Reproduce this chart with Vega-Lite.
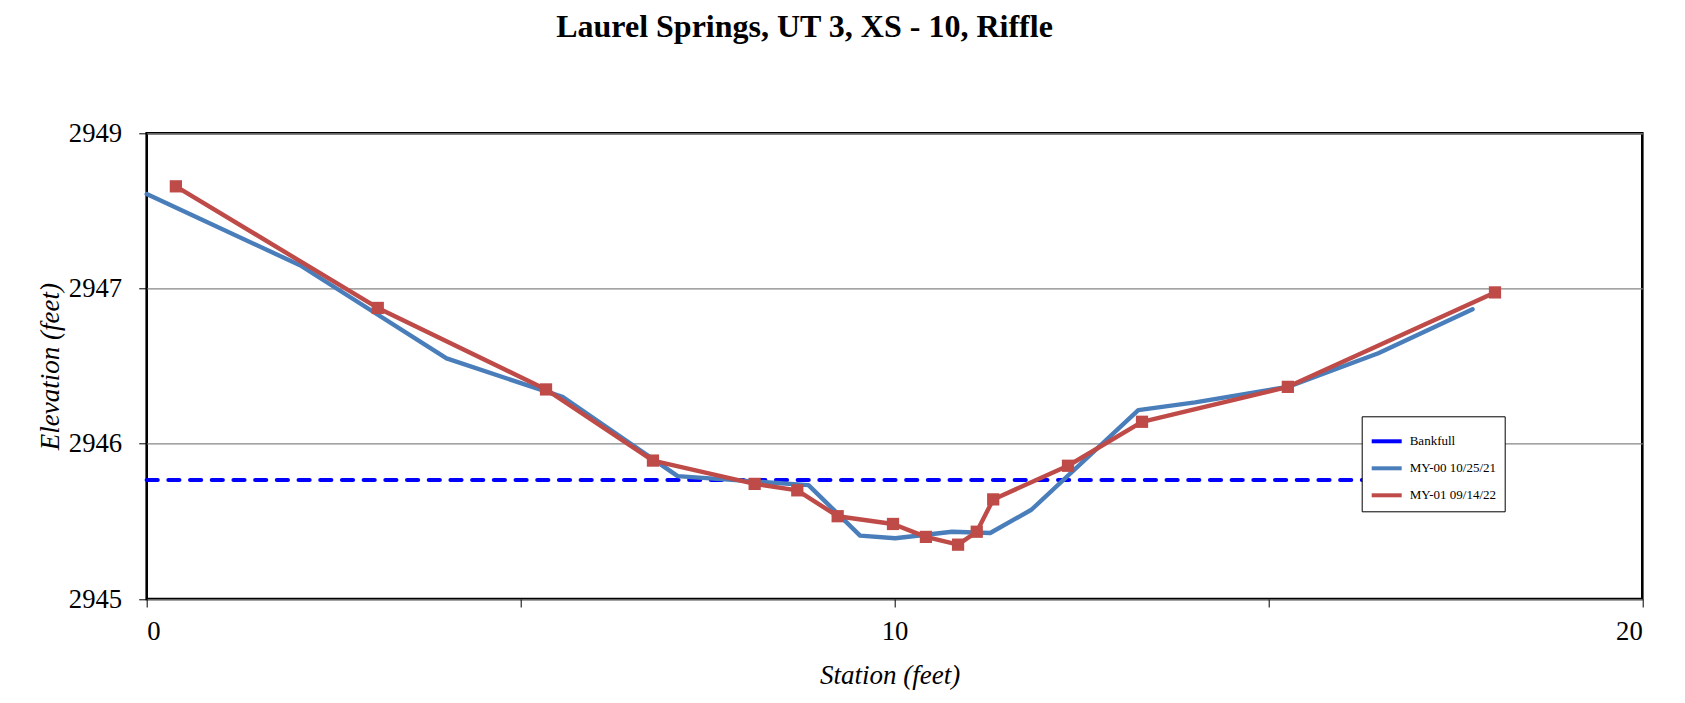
{
  "$schema": "https://vega.github.io/schema/vega-lite/v6.json",
  "width": 1495.6,
  "height": 465.7,
  "autosize": {"type": "none"},
  "padding": {"left": 146.7, "top": 133.3, "right": 42.7, "bottom": 104},
  "background": "white",
  "config": {"view": {"stroke": "#000000", "strokeWidth": 2.6}, "font": "Liberation Serif"},
  "title": {"text": "Laurel Springs, UT 3, XS - 10, Riffle", "font": "Liberation Serif", "fontSize": 32, "fontWeight": "bold", "color": "#000000", "anchor": "middle", "dx": -90, "baseline": "alphabetic", "offset": 51},
  "data": {"values": [
    {"series": "Bankfull", "station": 0, "elevation": 2945.92},
    {"series": "Bankfull", "station": 18.0, "elevation": 2945.92},
    {"series": "MY-00 10/25/21", "station": 0, "elevation": 2948.13},
    {"series": "MY-00 10/25/21", "station": 2.05, "elevation": 2947.58},
    {"series": "MY-00 10/25/21", "station": 4.01, "elevation": 2946.86},
    {"series": "MY-00 10/25/21", "station": 5.57, "elevation": 2946.56},
    {"series": "MY-00 10/25/21", "station": 7.10, "elevation": 2945.95},
    {"series": "MY-00 10/25/21", "station": 8.85, "elevation": 2945.88},
    {"series": "MY-00 10/25/21", "station": 9.54, "elevation": 2945.49},
    {"series": "MY-00 10/25/21", "station": 10.01, "elevation": 2945.47},
    {"series": "MY-00 10/25/21", "station": 10.77, "elevation": 2945.52},
    {"series": "MY-00 10/25/21", "station": 11.28, "elevation": 2945.51},
    {"series": "MY-00 10/25/21", "station": 11.83, "elevation": 2945.69},
    {"series": "MY-00 10/25/21", "station": 13.26, "elevation": 2946.46},
    {"series": "MY-00 10/25/21", "station": 14.02, "elevation": 2946.52},
    {"series": "MY-00 10/25/21", "station": 15.26, "elevation": 2946.64},
    {"series": "MY-00 10/25/21", "station": 16.47, "elevation": 2946.90},
    {"series": "MY-00 10/25/21", "station": 17.73, "elevation": 2947.24},
    {"series": "MY-01 09/14/22", "station": 0.39, "elevation": 2948.19},
    {"series": "MY-01 09/14/22", "station": 3.09, "elevation": 2947.25},
    {"series": "MY-01 09/14/22", "station": 5.34, "elevation": 2946.62},
    {"series": "MY-01 09/14/22", "station": 6.77, "elevation": 2946.07},
    {"series": "MY-01 09/14/22", "station": 8.13, "elevation": 2945.89},
    {"series": "MY-01 09/14/22", "station": 8.70, "elevation": 2945.84},
    {"series": "MY-01 09/14/22", "station": 9.24, "elevation": 2945.64},
    {"series": "MY-01 09/14/22", "station": 9.98, "elevation": 2945.58},
    {"series": "MY-01 09/14/22", "station": 10.42, "elevation": 2945.48},
    {"series": "MY-01 09/14/22", "station": 10.85, "elevation": 2945.42},
    {"series": "MY-01 09/14/22", "station": 11.10, "elevation": 2945.52},
    {"series": "MY-01 09/14/22", "station": 11.32, "elevation": 2945.77},
    {"series": "MY-01 09/14/22", "station": 12.32, "elevation": 2946.03},
    {"series": "MY-01 09/14/22", "station": 13.31, "elevation": 2946.37},
    {"series": "MY-01 09/14/22", "station": 15.26, "elevation": 2946.64},
    {"series": "MY-01 09/14/22", "station": 18.03, "elevation": 2947.37}
  ]},
  "layer": [
    {
      "transform": [{"filter": "datum.series === 'Bankfull'"}],
      "mark": {"type": "line", "color": "#0000FF", "strokeWidth": 4.2, "strokeCap": "round", "strokeDash": [11, 10.7]},
      "encoding": {
        "x": {"field": "station", "type": "quantitative",
          "scale": {"domain": [0, 20], "nice": false, "zero": false},
          "axis": {"orient": "bottom", "values": [0, 5, 10, 15, 20], "labelExpr": "datum.value % 10 === 0 ? datum.label : ''", "tickSize": 8, "tickWidth": 1, "tickColor": "#000000", "domain": false, "grid": false,
            "labelFont": "Liberation Serif", "labelFontSize": 26.7, "labelColor": "#000000", "labelPadding": 11,
            "title": "Station (feet)", "titleFont": "Liberation Serif", "titleFontStyle": "italic", "titleFontWeight": "normal", "titleFontSize": 27, "titleColor": "#000000",
            "titleX": 743, "titleY": 84, "titleBaseline": "alphabetic", "titleAlign": "center"}},
        "y": {"field": "elevation", "type": "quantitative",
          "scale": {"domain": [2945, 2948.6], "nice": false, "zero": false},
          "axis": {"values": [2945, 2946.2, 2947.4, 2948.6], "format": ".0f", "tickSize": 8, "tickWidth": 1, "tickColor": "#000000", "domain": false,
            "grid": true, "gridColor": "#868686", "gridWidth": 1.3,
            "labelFont": "Liberation Serif", "labelFontSize": 26.7, "labelColor": "#000000", "labelPadding": 17,
            "title": "Elevation (feet)", "titleFont": "Liberation Serif", "titleFontStyle": "italic", "titleFontWeight": "normal", "titleFontSize": 27, "titleColor": "#000000",
            "titleX": -96, "titleY": 232.85, "titleAngle": -90, "titleAlign": "center", "titleBaseline": "middle"}}
      }
    },
    {
      "transform": [{"filter": "datum.series !== 'Bankfull'"}],
      "mark": {"type": "line", "strokeWidth": 4.4, "strokeCap": "round", "strokeJoin": "round"},
      "encoding": {
        "x": {"field": "station", "type": "quantitative",
          "scale": {"domain": [0, 20], "nice": false, "zero": false},
          "axis": {"orient": "bottom", "values": [0, 5, 10, 15, 20], "labelExpr": "datum.value % 10 === 0 ? datum.label : ''", "tickSize": 8, "tickWidth": 1, "tickColor": "#000000", "domain": false, "grid": false,
            "labelFont": "Liberation Serif", "labelFontSize": 26.7, "labelColor": "#000000", "labelPadding": 11,
            "title": "Station (feet)", "titleFont": "Liberation Serif", "titleFontStyle": "italic", "titleFontWeight": "normal", "titleFontSize": 27, "titleColor": "#000000",
            "titleX": 743, "titleY": 84, "titleBaseline": "alphabetic", "titleAlign": "center"}},
        "y": {"field": "elevation", "type": "quantitative",
          "scale": {"domain": [2945, 2948.6], "nice": false, "zero": false},
          "axis": {"values": [2945, 2946.2, 2947.4, 2948.6], "format": ".0f", "tickSize": 8, "tickWidth": 1, "tickColor": "#000000", "domain": false,
            "grid": true, "gridColor": "#868686", "gridWidth": 1.3,
            "labelFont": "Liberation Serif", "labelFontSize": 26.7, "labelColor": "#000000", "labelPadding": 17,
            "title": "Elevation (feet)", "titleFont": "Liberation Serif", "titleFontStyle": "italic", "titleFontWeight": "normal", "titleFontSize": 27, "titleColor": "#000000",
            "titleX": -96, "titleY": 232.85, "titleAngle": -90, "titleAlign": "center", "titleBaseline": "middle"}},
        "color": {"field": "series", "type": "nominal",
          "scale": {"domain": ["Bankfull", "MY-00 10/25/21", "MY-01 09/14/22"], "range": ["#0000FF", "#4A7EBB", "#BE4B48"]},
          "legend": {"orient": "none", "legendX": 1215, "legendY": 283, "title": null, "direction": "vertical",
            "fillColor": "#FFFFFF", "strokeColor": "#000000", "padding": 8,
            "labelFont": "Liberation Serif", "labelFontSize": 13, "labelColor": "#000000", "labelOffset": 6,
            "symbolType": "stroke", "symbolSize": 900, "symbolStrokeWidth": 4}}
      }
    },
    {
      "transform": [{"filter": "datum.series === 'MY-01 09/14/22'"}],
      "mark": {"type": "point", "shape": "square", "filled": true, "size": 150, "opacity": 1, "color": "#BE4B48"},
      "encoding": {
        "x": {"field": "station", "type": "quantitative",
          "scale": {"domain": [0, 20], "nice": false, "zero": false},
          "axis": {"orient": "bottom", "values": [0, 5, 10, 15, 20], "labelExpr": "datum.value % 10 === 0 ? datum.label : ''", "tickSize": 8, "tickWidth": 1, "tickColor": "#000000", "domain": false, "grid": false,
            "labelFont": "Liberation Serif", "labelFontSize": 26.7, "labelColor": "#000000", "labelPadding": 11,
            "title": "Station (feet)", "titleFont": "Liberation Serif", "titleFontStyle": "italic", "titleFontWeight": "normal", "titleFontSize": 27, "titleColor": "#000000",
            "titleX": 743, "titleY": 84, "titleBaseline": "alphabetic", "titleAlign": "center"}},
        "y": {"field": "elevation", "type": "quantitative",
          "scale": {"domain": [2945, 2948.6], "nice": false, "zero": false},
          "axis": {"values": [2945, 2946.2, 2947.4, 2948.6], "format": ".0f", "tickSize": 8, "tickWidth": 1, "tickColor": "#000000", "domain": false,
            "grid": true, "gridColor": "#868686", "gridWidth": 1.3,
            "labelFont": "Liberation Serif", "labelFontSize": 26.7, "labelColor": "#000000", "labelPadding": 17,
            "title": "Elevation (feet)", "titleFont": "Liberation Serif", "titleFontStyle": "italic", "titleFontWeight": "normal", "titleFontSize": 27, "titleColor": "#000000",
            "titleX": -96, "titleY": 232.85, "titleAngle": -90, "titleAlign": "center", "titleBaseline": "middle"}}
      }
    }
  ]
}
